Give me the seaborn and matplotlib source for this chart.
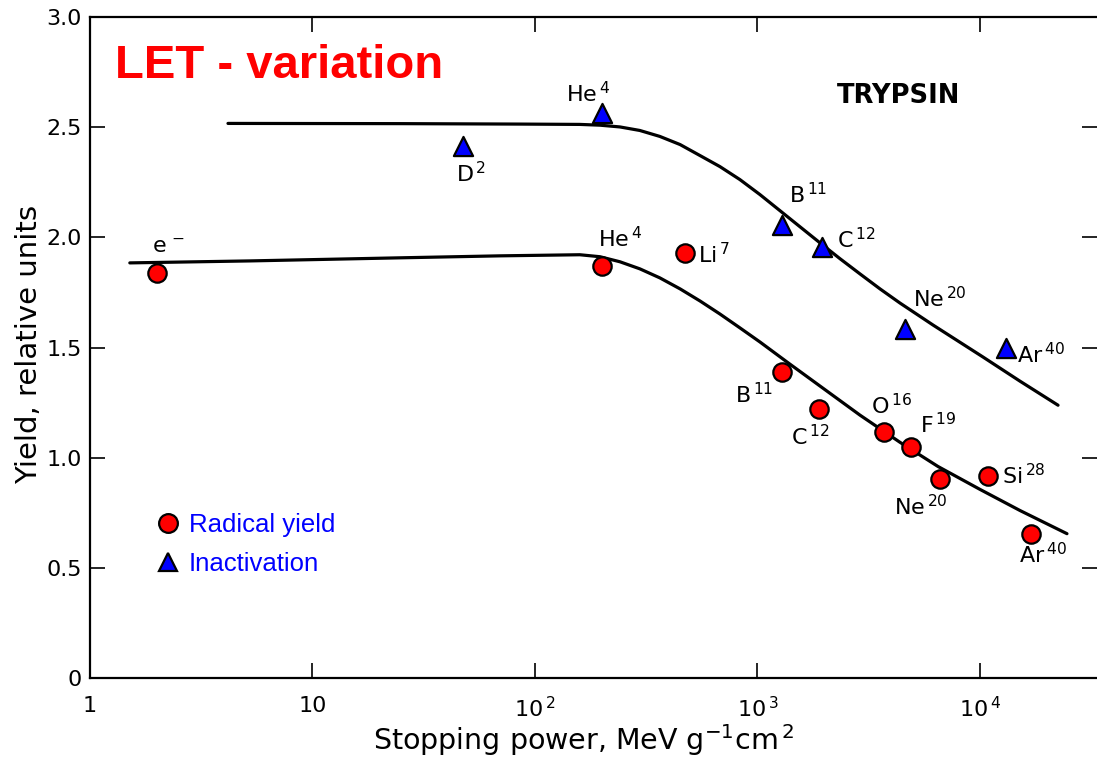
import matplotlib
matplotlib.use('Agg')
import matplotlib.pyplot as plt
from matplotlib.ticker import FixedLocator, FixedFormatter, NullLocator
from matplotlib.lines import Line2D
import seaborn as sns

# Radical yield (kreise)
rad_x = [2.0, 200, 472, 1288, 1890, 3700, 4900, 6600, 10860, 16950]
rad_y = [1.84, 1.87, 1.93, 1.39, 1.22, 1.115, 1.05, 0.905, 0.915, 0.655]
rad_lab = ['e$^{\\,-}$', 'He$^{\\,4}$', 'Li$^{\\,7}$', 'B$^{\\,11}$', 'C$^{\\,12}$',
           'O$^{\\,16}$', 'F$^{\\,19}$', 'Ne$^{\\,20}$', 'Si$^{\\,28}$', 'Ar$^{\\,40}$']

# Inactivation (dreiecke)
ina_x = [47.5, 200, 1288, 1950, 4600, 13090]
ina_y = [2.415, 2.565, 2.055, 1.955, 1.585, 1.50]
ina_lab = ['D$^{\\,2}$', 'He$^{\\,4}$', 'B$^{\\,11}$', 'C$^{\\,12}$', 'Ne$^{\\,20}$', 'Ar$^{\\,40}$']

# Kurven
up_x = [4.17, 24.7, 85.6, 159, 196, 241, 296, 364, 449, 552, 678, 834, 1026, 1262, 1552,
        1909, 2349, 2889, 3554, 4366, 6151, 10310, 15140, 22430]
up_y = [2.517, 2.516, 2.514, 2.5125, 2.509, 2.501, 2.485, 2.458, 2.421, 2.371, 2.321, 2.262,
        2.194, 2.121, 2.048, 1.975, 1.903, 1.834, 1.766, 1.702, 1.602, 1.457, 1.347, 1.238]
lo_x = [1.51, 5.24, 24.7, 69.6, 159, 196, 241, 296, 364, 449, 552, 678, 834, 1026, 1358,
        2053, 2889, 4366, 6475, 10000, 15140, 24600]
lo_y = [1.884, 1.893, 1.907, 1.916, 1.921, 1.912, 1.889, 1.857, 1.816, 1.766, 1.711, 1.652,
        1.589, 1.525, 1.434, 1.302, 1.193, 1.070, 0.960, 0.856, 0.760, 0.655]

xticks = [1, 10, 100, 1000, 10000]
xtick_lab = ['1', '10', '10$^{\\,2}$', '10$^{\\,3}$', '10$^{\\,4}$']
yticks = [0, 0.5, 1.0, 1.5, 2.0, 2.5, 3.0]
ytick_lab = ['0', '0.5', '1.0', '1.5', '2.0', '2.5', '3.0']

# label offsets in points (dx, dy, ha)
rad_off = [(8, 14.4, 'center'), (13, 13.7, 'center'), (9.4, -7.2, 'left'), (-6.5, -22.3, 'right'),
           (-6.5, -25.9, 'center'), (5.8, 13, 'center'), (6.5, 9.4, 'left'), (-13.7, -26.6, 'center'),
           (10, -5.8, 'left'), (8.6, -21.6, 'center')]
ina_off = [(5.8, -26, 'center'), (-10, 8, 'center'), (5, 15.8, 'left'), (10.8, -0.7, 'left'),
           (5.8, 15.8, 'left'), (7.9, -11.5, 'left')]

sns.set_style('ticks')
plt.rcParams['font.family'] = ['DejaVu Sans']
plt.rcParams['mathtext.default'] = 'regular'
for k in ['text.color', 'axes.labelcolor', 'xtick.color', 'ytick.color', 'axes.edgecolor']:
    plt.rcParams[k] = 'black'

fig = plt.figure(figsize=(10.97, 7.58), dpi=100)
ax = fig.add_axes([90 / 1097, 1 - 678 / 758, 1007 / 1097, 661 / 758])

sns.lineplot(x=up_x, y=up_y, sort=False, estimator=None, color='black', lw=2.3, ax=ax, legend=False)
sns.lineplot(x=lo_x, y=lo_y, sort=False, estimator=None, color='black', lw=2.3, ax=ax, legend=False)

sns.scatterplot(x=rad_x, y=rad_y, marker='o', s=175, color='#ff0000', edgecolor='black',
                linewidth=1.6, ax=ax, zorder=3, legend=False)
sns.scatterplot(x=ina_x, y=ina_y, marker='^', s=190, color='#0000ff', edgecolor='black',
                linewidth=1.6, ax=ax, zorder=3, legend=False)

for x, y, t, (dx, dy, ha) in zip(rad_x, rad_y, rad_lab, rad_off):
    ax.annotate(t, (x, y), xytext=(dx, dy), textcoords='offset points', ha=ha, va='baseline', fontsize=16)
for x, y, t, (dx, dy, ha) in zip(ina_x, ina_y, ina_lab, ina_off):
    ax.annotate(t, (x, y), xytext=(dx, dy), textcoords='offset points', ha=ha, va='baseline', fontsize=16)

ax.set_xscale('log')
ax.set_xlim(1, 33570)
ax.set_ylim(0, 3.0)
ax.xaxis.set_major_locator(FixedLocator(xticks))
ax.xaxis.set_major_formatter(FixedFormatter(xtick_lab))
ax.xaxis.set_minor_locator(NullLocator())
ax.yaxis.set_major_locator(FixedLocator(yticks))
ax.yaxis.set_major_formatter(FixedFormatter(ytick_lab))

ax.tick_params(axis='x', direction='in', length=11, width=1.2, labelsize=16, pad=13, top=True)
ax.tick_params(axis='y', direction='in', length=11, width=1.2, labelsize=16, pad=6, right=True)
for s in ['left', 'bottom', 'top']:
    ax.spines[s].set_linewidth(1.6)
ax.spines['right'].set_visible(False)

ax.set_xlabel('Stopping power, MeV g$^{-1}$cm$^{\\,2}$', fontsize=20.5)
ax.xaxis.set_label_coords(0.49, -0.066)
ax.set_ylabel('Yield, relative units', fontsize=21)
ax.yaxis.set_label_coords(-0.047, 0.504)

ax.text(0.803, 0.870, 'TRYPSIN', transform=ax.transAxes, ha='center', va='baseline',
        fontsize=18.5, fontweight='bold')
fig.text(115 / 1097, 1 - 78 / 758, 'LET - variation', color='#ff0000', fontsize=34,
         fontweight='bold', family='Liberation Sans', ha='left', va='baseline')

handles = [Line2D([], [], ls='none', marker='o', ms=13.5, mfc='#ff0000', mec='black', mew=1.6),
           Line2D([], [], ls='none', marker='^', ms=13.5, mfc='#0000ff', mec='black', mew=1.6)]
leg = ax.legend(handles, ['Radical yield', 'Inactivation'], loc='upper left',
                bbox_to_anchor=(158 / 1097, 1 - 513 / 758), bbox_transform=fig.transFigure,
                frameon=False, borderpad=0, borderaxespad=0, handlelength=0.8, handletextpad=0.4,
                labelspacing=0.57, prop={'family': 'Liberation Sans', 'size': 18.5}, labelcolor='#0000ff')

fig.savefig('out.png', dpi=100)
